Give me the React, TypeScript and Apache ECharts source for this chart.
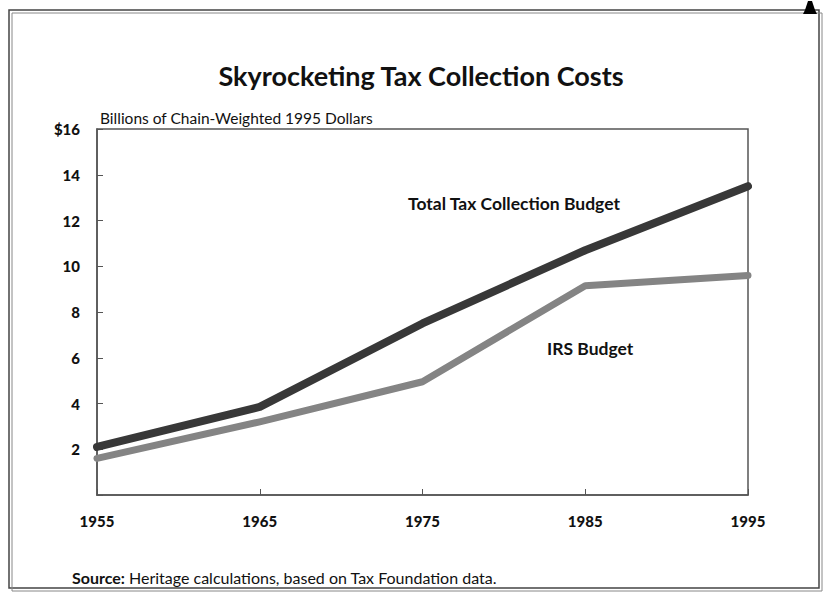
import React, { useEffect, useRef } from "react";
import * as echarts from "echarts";

const years = [1955, 1965, 1975, 1985, 1995];
const totalBudget = [2.1, 3.85, 7.5, 10.7, 13.5];
const irsBudget = [1.6, 3.2, 4.95, 9.15, 9.6];
const yTicks = [0, 2, 4, 6, 8, 10, 12, 14, 16];

const FONT = "Lato, 'Open Sans', sans-serif";

export default function App() {
  const ref = useRef<HTMLDivElement>(null);
  useEffect(() => {
    if (!ref.current) return;
    const chart = echarts.init(ref.current, null, { renderer: "svg" });
    chart.setOption({
      animation: false,
      backgroundColor: "#ffffff",
      grid: { left: 97, right: 76, top: 129, bottom: 107, show: true, borderColor: "#555", borderWidth: 1.5 },
      xAxis: {
        type: "value",
        min: years[0],
        max: years[years.length - 1],
        interval: 10,
        axisLine: { show: true, lineStyle: { color: "#555", width: 1.5 } },
        axisTick: { show: true, inside: true, length: 6, lineStyle: { color: "#555" } },
        splitLine: { show: false },
        axisLabel: {
          color: "#111",
          fontFamily: FONT,
          fontWeight: 900,
          fontSize: 15,
          margin: 18,
          formatter: (v: number) => String(v),
        },
      },
      yAxis: {
        type: "value",
        min: yTicks[0],
        max: yTicks[yTicks.length - 1],
        interval: 2,
        axisLine: { show: true, lineStyle: { color: "#555", width: 1.5 } },
        axisTick: { show: true, inside: true, length: 6, lineStyle: { color: "#555" } },
        splitLine: { show: false },
        axisLabel: {
          color: "#111",
          fontFamily: FONT,
          fontWeight: 900,
          fontSize: 15,
          margin: 17,
          formatter: (v: number) => (v === 0 ? "" : v === 16 ? "$16" : String(v)),
        },
      },
      series: [
        {
          name: "Total Tax Collection Budget",
          type: "line",
          data: years.map((y, i) => [y, totalBudget[i]]),
          symbol: "none",
          lineStyle: { color: "#383838", width: 8, cap: "round", join: "round" },
          z: 3,
        },
        {
          name: "IRS Budget",
          type: "line",
          data: years.map((y, i) => [y, irsBudget[i]]),
          symbol: "none",
          lineStyle: { color: "#848484", width: 7, cap: "round", join: "round" },
          z: 2,
        },
      ],
      graphic: [
        { type: "rect", shape: { x: 9, y: 10, width: 810, height: 578 }, style: { fill: "none", stroke: "#444", lineWidth: 1.5 }, silent: true },
        { type: "rect", shape: { x: 12, y: 13, width: 810, height: 578 }, style: { fill: "none", stroke: "#888", lineWidth: 1 }, silent: true },
        {
          type: "polygon",
          shape: { points: [[808, 1], [812, 1], [815, 10], [817, 14], [803, 14], [805, 10]] },
          style: { fill: "#000" },
          silent: true,
        },
        {
          type: "text",
          x: 421,
          y: 75,
          style: {
            text: "Skyrocketing Tax Collection Costs",
            fontFamily: FONT,
            fontWeight: "bold",
            fontSize: 27,
            fill: "#111",
            align: "center",
            verticalAlign: "middle",
          },
        },
        {
          type: "text",
          x: 100,
          y: 118,
          style: {
            text: "Billions of Chain-Weighted 1995 Dollars",
            fontFamily: FONT,
            fontSize: 15.5,
            fill: "#111",
            align: "left",
            verticalAlign: "middle",
          },
        },
        {
          type: "text",
          x: 408,
          y: 203,
          style: {
            text: "Total Tax Collection Budget",
            fontFamily: FONT,
            fontWeight: "bold",
            fontSize: 17.5,
            fill: "#111",
            align: "left",
            verticalAlign: "middle",
          },
        },
        {
          type: "text",
          x: 547,
          y: 348,
          style: {
            text: "IRS Budget",
            fontFamily: FONT,
            fontWeight: "bold",
            fontSize: 17.5,
            fill: "#111",
            align: "left",
            verticalAlign: "middle",
          },
        },
        {
          type: "text",
          x: 72,
          y: 577,
          style: {
            text: "{b|Source:} Heritage calculations, based on Tax Foundation data.",
            fontFamily: FONT,
            fontSize: 16,
            fill: "#111",
            align: "left",
            verticalAlign: "middle",
            rich: { b: { fontFamily: FONT, fontWeight: "bold", fontSize: 16, fill: "#111" } },
          },
        },
      ],
    });
    return () => chart.dispose();
  }, []);
  return <div ref={ref} style={{ width: 824, height: 602, position: "absolute", left: 0, top: 0 }} />;
}
